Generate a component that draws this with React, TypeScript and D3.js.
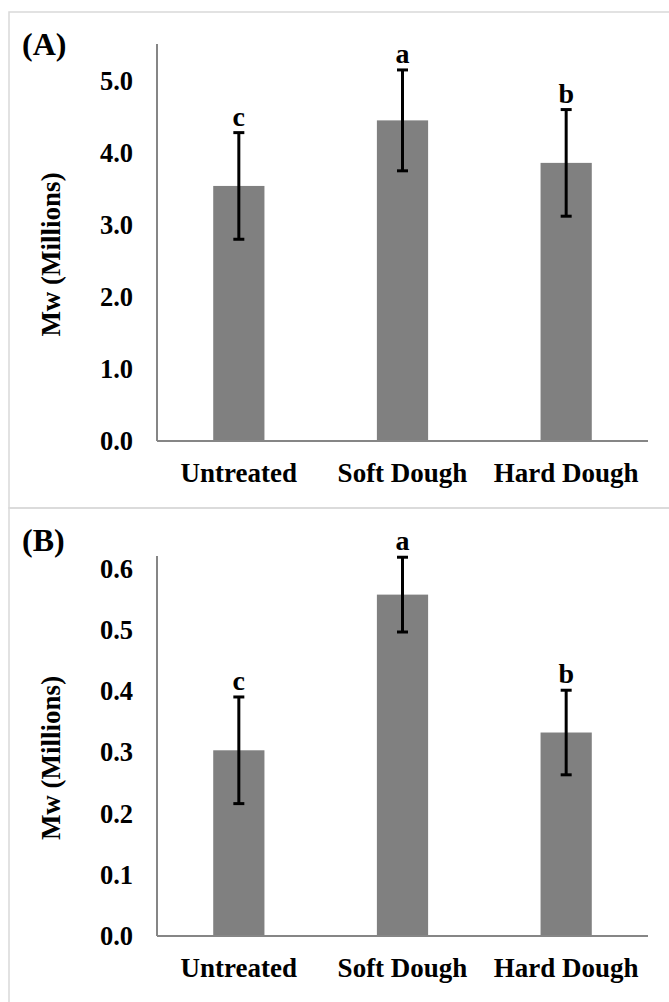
// 两个柱状图面板 (A)(B)，带误差线和显著性字母
import React, { useRef, useEffect } from 'react';
import * as d3 from 'd3';

// 类别
const categories = ['Untreated', 'Soft Dough', 'Hard Dough'];
// 面板A：Mw均值、误差、字母
const mwA = [3.54, 4.45, 3.86];
const errA = [0.74, 0.70, 0.74];
const lettersA = ['c', 'a', 'b'];
const ticksA = [0, 1, 2, 3, 4, 5];
// 面板B
const mwB = [0.303, 0.557, 0.332];
const errB = [0.087, 0.061, 0.069];
const lettersB = ['c', 'a', 'b'];
const ticksB = [0, 0.1, 0.2, 0.3, 0.4, 0.5, 0.6];

const FONT = '"Liberation Serif", "Times New Roman", serif';

const App = () => {
  const ref = useRef<SVGSVGElement>(null);

  useEffect(() => {
    const svg = d3.select(ref.current);
    svg.selectAll('*').remove();

    // 画一个面板
    const drawPanel = (opts: {
      name: string; values: number[]; errs: number[]; letters: string[];
      ticks: number[]; max: number; boxTop: number; boxBottom: number;
      plotTop: number; plotBottom: number;
    }) => {
      const { name, values, errs, letters, ticks, max, boxTop, boxBottom, plotTop, plotBottom } = opts;
      const left = 157, right = 648;

      // 外框
      svg.append('rect')
        .attr('x', 9).attr('y', boxTop)
        .attr('width', 700).attr('height', boxBottom - boxTop)
        .attr('fill', 'none').attr('stroke', '#d9d9d9').attr('stroke-width', 1.5);

      const x = d3.scaleBand().domain(categories).range([left, right]).paddingInner(0.687).paddingOuter(0.3435);
      const y = d3.scaleLinear().domain([0, max]).range([plotBottom, plotTop]);

      const g = svg.append('g');

      // 柱子
      g.selectAll('rect.bar')
        .data(values)
        .enter()
        .append('rect')
        .attr('class', 'bar')
        .attr('x', (d, i) => x(categories[i])!)
        .attr('width', x.bandwidth())
        .attr('y', d => y(d))
        .attr('height', d => y(0) - y(d))
        .attr('fill', '#808080');

      // 坐标轴线
      g.append('line')
        .attr('x1', left).attr('x2', left)
        .attr('y1', plotTop).attr('y2', plotBottom)
        .attr('stroke', '#868686').attr('stroke-width', 2);
      g.append('line')
        .attr('x1', left).attr('x2', right)
        .attr('y1', plotBottom).attr('y2', plotBottom)
        .attr('stroke', '#868686').attr('stroke-width', 2);

      // 误差线
      values.forEach((v, i) => {
        const cx = x(categories[i])! + x.bandwidth() / 2;
        const hi = y(v + errs[i]);
        const lo = y(v - errs[i]);
        g.append('line').attr('x1', cx).attr('x2', cx).attr('y1', hi).attr('y2', lo)
          .attr('stroke', '#000').attr('stroke-width', 3);
        [hi, lo].forEach(yy => {
          g.append('line').attr('x1', cx - 5.5).attr('x2', cx + 5.5).attr('y1', yy).attr('y2', yy)
            .attr('stroke', '#000').attr('stroke-width', 3);
        });
        // 字母
        g.append('text')
          .attr('x', cx).attr('y', hi - 7)
          .attr('text-anchor', 'middle')
          .style('font-family', FONT).style('font-weight', 'bold').style('font-size', '28px')
          .text(letters[i]);
      });

      // y刻度标签
      g.selectAll('text.tick')
        .data(ticks)
        .enter()
        .append('text')
        .attr('class', 'tick')
        .attr('x', 133)
        .attr('y', d => y(d))
        .attr('dy', '0.35em')
        .attr('text-anchor', 'end')
        .style('font-family', FONT).style('font-weight', 'bold').style('font-size', '26.5px')
        .text(d => d3.format('.1f')(d));

      // x类别标签
      g.selectAll('text.cat')
        .data(categories)
        .enter()
        .append('text')
        .attr('class', 'cat')
        .attr('x', d => x(d)! + x.bandwidth() / 2)
        .attr('y', plotBottom + 41)
        .attr('text-anchor', 'middle')
        .style('font-family', FONT).style('font-weight', 'bold').style('font-size', '27px')
        .text(d => d);

      // y轴标题
      g.append('text')
        .attr('transform', `translate(60, ${(plotTop + plotBottom) / 2 + 12}) rotate(-90)`)
        .attr('text-anchor', 'middle')
        .style('font-family', FONT).style('font-weight', 'bold').style('font-size', '27px')
        .text('Mw (Millions)');

      // 面板标签
      g.append('text')
        .attr('x', 22).attr('y', boxTop + 43)
        .style('font-family', FONT).style('font-weight', 'bold').style('font-size', '32px')
        .text(name);
    };

    drawPanel({ name: '(A)', values: mwA, errs: errA, letters: lettersA, ticks: ticksA, max: 5.51,
      boxTop: 12, boxBottom: 508, plotTop: 44, plotBottom: 441 });
    drawPanel({ name: '(B)', values: mwB, errs: errB, letters: lettersB, ticks: ticksB, max: 0.62,
      boxTop: 508, boxBottom: 1010, plotTop: 556, plotBottom: 936 });
  }, []);

  return (
    <svg ref={ref} width={669} height={1002}
      style={{ position: 'absolute', left: 0, top: 0, background: '#fff' }} />
  );
};

export default App;
